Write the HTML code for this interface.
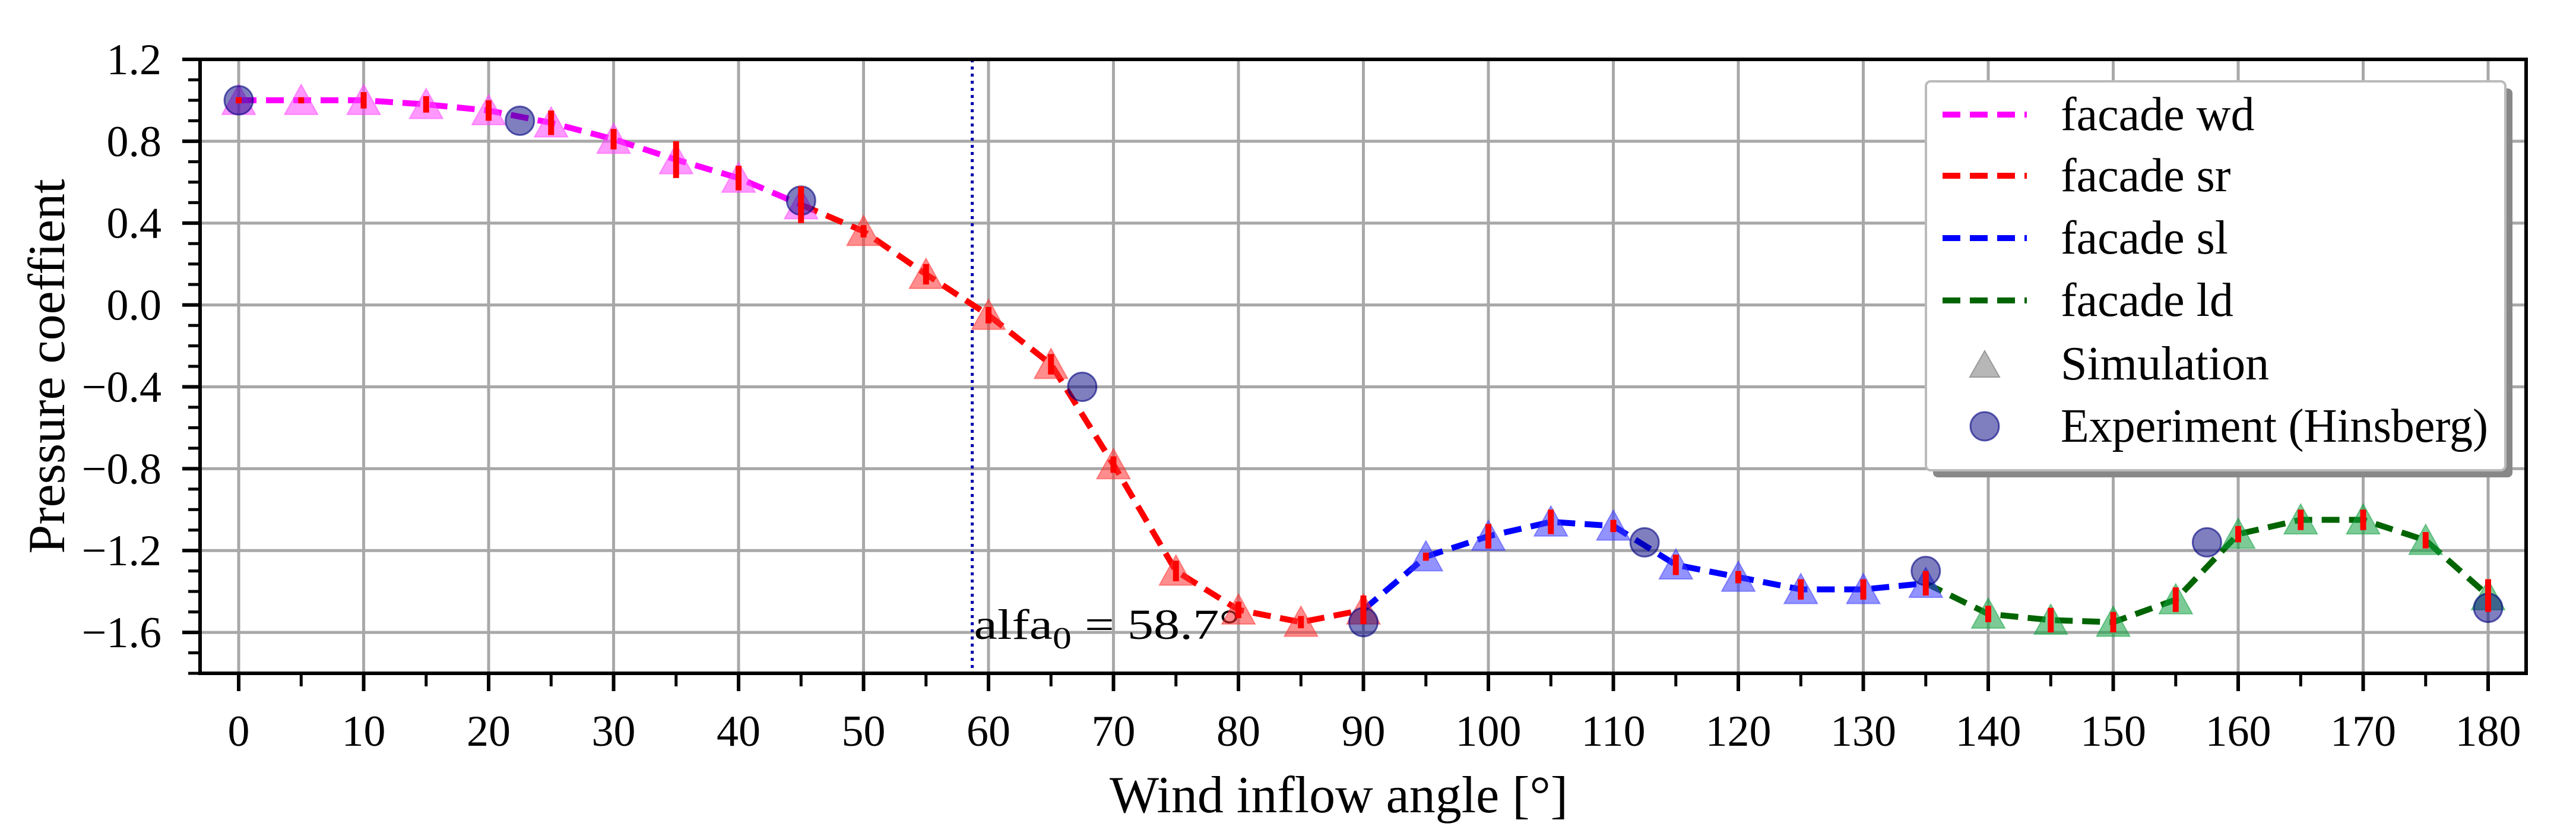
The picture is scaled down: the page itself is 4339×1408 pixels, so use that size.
<!DOCTYPE html>
<html><head><meta charset="utf-8"><style>
html,body{margin:0;padding:0;background:#fff;}
svg{display:block;font-family:"Liberation Serif",serif;}
</style></head><body>
<svg id="chart" width="4339" height="1408" viewBox="0 0 4339 1408" xmlns="http://www.w3.org/2000/svg">
<g id="grid"></g>
<g id="series"></g>
<g id="axes"></g>
<g id="legend"></g>
</svg>
<script>
const simAngles=[0,5,10,15,20,25,30,35,40,45,50,55,60,65,70,75,80,85,90,95,100,105,110,115,120,125,130,135,140,145,150,155,160,165,170,175,180];
const simValues=[1.0,1.0,1.0,0.98,0.95,0.89,0.81,0.71,0.62,0.49,0.36,0.15,-0.05,-0.29,-0.78,-1.3,-1.49,-1.55,-1.49,-1.23,-1.13,-1.06,-1.08,-1.27,-1.33,-1.39,-1.39,-1.36,-1.51,-1.54,-1.55,-1.44,-1.12,-1.05,-1.05,-1.15,-1.42];
const simErrors=[0.01,0.0,0.04,0.04,0.05,0.06,0.05,0.09,0.06,0.09,0.03,0.05,0.04,0.05,0.04,0.05,0.04,0.03,0.07,0.02,0.06,0.06,0.03,0.05,0.03,0.05,0.05,0.06,0.04,0.06,0.05,0.06,0.04,0.05,0.05,0.04,0.08];
const facadeNames=["facade wd","facade sr","facade sl","facade ld"];
const facadeRanges=[[0,45],[45,90],[90,135],[135,180]];
const facadeColors=["#ff00ff","#ff0000","#0000ff","#006400"];
const markerColors=["#ff44ff","#ff3030","#3a3aff","#10a040"];
const expAngles=[0,22.5,45,67.5,90,112.5,135,157.5,180];
const expValues=[1.0,0.9,0.51,-0.4,-1.55,-1.16,-1.3,-1.16,-1.48];
const xTicks=[0,10,20,30,40,50,60,70,80,90,100,110,120,130,140,150,160,170,180];
const yTicks=[1.2,0.8,0.4,0.0,-0.4,-0.8,-1.2,-1.6];
const alfa0=58.7;

const NS="http://www.w3.org/2000/svg";
const L=337,R=4255,T=100,B=1134;
const xmin=-3.09,xmax=183.04,ymin=-1.8,ymax=1.2;
const xs=v=>L+(v-xmin)/(xmax-xmin)*(R-L);
const ys=v=>B-(v-ymin)/(ymax-ymin)*(B-T);
function mk(tag,attrs,parent){const e=document.createElementNS(NS,tag);for(const k in attrs)e.setAttribute(k,attrs[k]);parent.appendChild(e);return e;}
const grid=document.getElementById('grid'),ser=document.getElementById('series'),ax=document.getElementById('axes'),leg=document.getElementById('legend');

xTicks.forEach(t=>{const l=mk('line',{x1:xs(t),x2:xs(t),y1:T,y2:B,stroke:'#a8a8a8','stroke-width':5},grid);

});
yTicks.forEach(t=>{const l=mk('line',{x1:L,x2:R,y1:ys(t),y2:ys(t),stroke:'#a8a8a8','stroke-width':5},grid);

});

const al=mk('line',{x1:xs(alfa0),x2:xs(alfa0),y1:T,y2:B,stroke:'#0000aa','stroke-width':5,'stroke-dasharray':'5 7'},ser);


const at=mk('text',{x:xs(alfa0)+3,y:1076,'font-size':72,fill:'#000',textLength:448,lengthAdjust:'spacingAndGlyphs'},ser);


at.innerHTML='alfa<tspan font-size="52" dy="16">0</tspan><tspan dy="-16"> = 58.7°</tspan>';

facadeRanges.forEach((r,i)=>{const pts=[];simAngles.forEach((a,j)=>{if(a>=r[0]&&a<=r[1])pts.push(xs(a)+','+ys(simValues[j]));});
const p=mk('polyline',{points:pts.join(' '),fill:'none',stroke:facadeColors[i],'stroke-width':10,'stroke-dasharray':'30 16'},ser);

});

simAngles.forEach((a,j)=>{let fi=Math.min(3,Math.floor((a-0.001)/45));if(a===0)fi=0;
const cx=xs(a),cy=ys(simValues[j]),s=28;
const tr=mk('polygon',{points:`${cx-s},${cy+s*0.85} ${cx+s},${cy+s*0.85} ${cx},${cy-s*0.95}`,fill:markerColors[fi],'fill-opacity':0.55,stroke:markerColors[fi],'stroke-opacity':0.5,'stroke-width':2},ser);

});

expAngles.forEach((a,j)=>{const c=mk('circle',{cx:xs(a),cy:ys(expValues[j]),r:24,fill:'#000080','fill-opacity':0.5,stroke:'#000080','stroke-opacity':0.6,'stroke-width':3},ser);

});

simAngles.forEach((a,j)=>{const e=Math.max(simErrors[j],0.015);
const l=mk('line',{x1:xs(a),x2:xs(a),y1:ys(simValues[j]+e),y2:ys(simValues[j]-e),stroke:'#ff0000','stroke-width':10},ser);

});

const fr=mk('rect',{x:L,y:T,width:R-L,height:B-T,fill:'none',stroke:'#000','stroke-width':6},ax);


for(let v=0;v<=180;v+=5){const maj=v%10===0;
const l=mk('line',{x1:xs(v),x2:xs(v),y1:B,y2:B+(maj?30:22),stroke:'#000','stroke-width':maj?6:5},ax);

}
for(let k=-18;k<=12;k++){const v=k/10;const maj=(k%4===0);
const l=mk('line',{x1:L,x2:L-(maj?30:20),y1:ys(v),y2:ys(v),stroke:'#000','stroke-width':maj?6:5},ax);

}
xTicks.forEach(t=>{const tx=mk('text',{x:xs(t),y:1256,'font-size':74,'text-anchor':'middle'},ax);


tx.textContent=String(t);});
yTicks.forEach(t=>{const tx=mk('text',{x:272,y:ys(t)+25,'font-size':74,'text-anchor':'end'},ax);


tx.textContent=(t<0?'\u2212':'')+Math.abs(t).toFixed(1);});
const xl=mk('text',{x:2255,y:1368,'font-size':88,'text-anchor':'middle'},ax);


xl.textContent='Wind inflow angle [°]';
const yl=mk('text',{x:0,y:0,'font-size':88,'text-anchor':'middle',transform:'translate(108,617) rotate(-90)'},ax);


yl.textContent='Pressure coeffient';

const sh=mk('rect',{x:3256,y:149,width:976,height:655,rx:8,fill:'#888'},leg);


const box=mk('rect',{x:3244,y:137,width:976,height:655,rx:8,fill:'#fff',stroke:'#bbb','stroke-width':4},leg);


const rowsY=[193,296,401,506,613,718];
facadeNames.forEach((n,i)=>{const l=mk('line',{x1:3272,x2:3414,y1:rowsY[i],y2:rowsY[i],stroke:facadeColors[i],'stroke-width':10,'stroke-dasharray':'30 16'},leg);


const t=mk('text',{x:3471,y:rowsY[i]+26,'font-size':80},leg);


t.textContent=n;});
const lt=mk('polygon',{points:`3318,${rowsY[4]+22} 3368,${rowsY[4]+22} 3343,${rowsY[4]-22}`,fill:'#999','fill-opacity':0.7,stroke:'#999','stroke-width':2},leg);


const t5=mk('text',{x:3471,y:rowsY[4]+26,'font-size':80},leg);


t5.textContent='Simulation';
const lc=mk('circle',{cx:3343,cy:rowsY[5],r:24,fill:'#000080','fill-opacity':0.5,stroke:'#000080','stroke-opacity':0.6,'stroke-width':3},leg);


const t6=mk('text',{x:3471,y:rowsY[5]+26,'font-size':80,textLength:720,lengthAdjust:'spacingAndGlyphs'},leg);


t6.textContent='Experiment (Hinsberg)';
</script>
</body></html>
